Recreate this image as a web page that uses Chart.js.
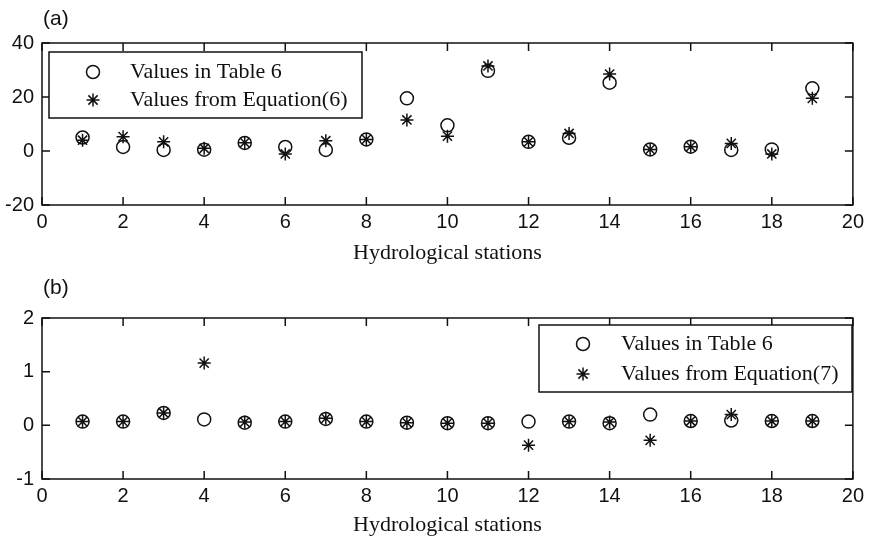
<!DOCTYPE html>
<html><head><meta charset="utf-8">
<script src="https://cdn.jsdelivr.net/npm/chart.js@4.4.0/dist/chart.umd.min.js"></script>
<style>
html,body{margin:0;padding:0;background:#fff;width:869px;height:541px;overflow:hidden}
canvas{position:absolute;left:0}
#c1{top:0}
#c2{top:270px}
</style></head><body>
<canvas id="c1" width="869" height="270"></canvas>
<canvas id="c2" width="869" height="271"></canvas>
<script>
// ---- data ----
const stations = [1,2,3,4,5,6,7,8,9,10,11,12,13,14,15,16,17,18,19];
const tableA = [5,1.5,0.4,0.5,3,1.5,0.4,4.3,19.5,9.5,29.7,3.4,4.9,25.3,0.6,1.6,0.4,0.6,23.2];
const equationA = [4,5.3,3.4,1,3.1,-1.1,3.8,4.3,11.5,5.5,31.5,3.4,6.5,28.5,0.6,1.6,2.8,-1.1,19.5];
const tableB = [0.07,0.07,0.23,0.11,0.05,0.07,0.12,0.07,0.05,0.04,0.04,0.07,0.07,0.04,0.2,0.08,0.09,0.08,0.08];
const equationB = [0.07,0.07,0.23,1.16,0.06,0.07,0.13,0.07,0.05,0.04,0.04,-0.37,0.07,0.06,-0.28,0.08,0.2,0.08,0.08];
const xRange = [0, 20], xStep = 2;
const yRangeA = [-20, 40], yStepA = 20;
const yRangeB = [-1, 2], yStepB = 1;
const labelTable = 'Values in Table 6';
const labelEqA = 'Values from Equation(6)';
const labelEqB = 'Values from Equation(7)';
const axisTitle = 'Hydrological stations';

const SANS = '"Liberation Sans", Arial, sans-serif';
const SERIF = '"Liberation Serif", "Times New Roman", serif';

const framePlugin = {
  id: 'frame',
  afterDatasetsDraw(chart, args, opts) {
    const {ctx, chartArea: a, scales: {x, y}} = chart;
    ctx.save();
    ctx.strokeStyle = '#111';
    ctx.lineWidth = 1.5;
    ctx.strokeRect(a.left, a.top, a.right - a.left, a.bottom - a.top);
    const L = 8;
    ctx.beginPath();
    x.ticks.forEach(t => {
      const px = x.getPixelForValue(t.value);
      ctx.moveTo(px, a.bottom); ctx.lineTo(px, a.bottom - L);
      ctx.moveTo(px, a.top); ctx.lineTo(px, a.top + L);
    });
    y.ticks.forEach(t => {
      const py = y.getPixelForValue(t.value);
      ctx.moveTo(a.left, py); ctx.lineTo(a.left + L, py);
      ctx.moveTo(a.right, py); ctx.lineTo(a.right - L, py);
    });
    ctx.stroke();
    // panel label
    ctx.fillStyle = '#111';
    ctx.font = '21px ' + SANS;
    ctx.textBaseline = 'middle';
    ctx.textAlign = 'left';
    ctx.fillText(opts.panel, opts.panelX, opts.panelY);
    // legend box
    const b = opts.box;
    ctx.fillStyle = '#fff';
    ctx.fillRect(b.x, b.y, b.w, b.h);
    ctx.lineWidth = 1.5;
    ctx.strokeRect(b.x, b.y, b.w, b.h);
    chart.data.datasets.forEach((ds, i) => {
      const yy = opts.rows[i];
      ctx.strokeStyle = '#111';
      ctx.lineWidth = 1.5;
      Chart.helpers.drawPoint(ctx, {pointStyle: ds.pointStyle, radius: ds.pointRadius, borderWidth: 1.5, rotation: 0}, opts.markerX, yy);
      ctx.fillStyle = '#111';
      ctx.font = '22px ' + SERIF;
      ctx.textBaseline = 'middle';
      ctx.textAlign = 'left';
      ctx.fillText(ds.label, opts.textX, yy);
    });
    ctx.restore();
  }
};

function makeChart(id, tbl, eq, eqLabel, yRange, yStep, padTop, xH, titlePadBottom, frameOpts) {
  const toPts = arr => stations.map((s, i) => ({x: s, y: arr[i]}));
  return new Chart(document.getElementById(id), {
    type: 'scatter',
    data: {
      datasets: [
        {label: labelTable, data: toPts(tbl), pointStyle: 'circle', pointRadius: 6.5,
         borderColor: '#111', backgroundColor: 'rgba(0,0,0,0)', borderWidth: 1.5, showLine: false},
        {label: eqLabel, data: toPts(eq), pointStyle: 'star', pointRadius: 6.5,
         borderColor: '#111', backgroundColor: 'rgba(0,0,0,0)', borderWidth: 1.5, showLine: false}
      ]
    },
    options: {
      responsive: false,
      animation: false,
      events: [],
      layout: {padding: {top: padTop, right: 9, left: 0, bottom: 0}},
      plugins: {legend: {display: false}, tooltip: {enabled: false}, title: {display: false},
        frame: frameOpts},
      scales: {
        x: {
          type: 'linear', min: xRange[0], max: xRange[1],
          grid: {display: false, drawTicks: false},
          border: {display: false},
          ticks: {stepSize: xStep, padding: 5, color: '#111', font: {family: SANS, size: 20}, maxRotation: 0},
          title: {display: true, text: axisTitle, color: '#111', font: {family: SERIF, size: 22},
                  padding: {top: 0, bottom: titlePadBottom}},
          afterFit(s) { s.height = xH; }
        },
        y: {
          type: 'linear', min: yRange[0], max: yRange[1],
          grid: {display: false, drawTicks: false},
          border: {display: false},
          ticks: {stepSize: yStep, padding: 8, color: '#111', font: {family: SANS, size: 20}},
          afterFit(s) { s.width = 42; }
        }
      }
    },
    plugins: [framePlugin]
  });
}

makeChart('c1', tableA, equationA, labelEqA, yRangeA, yStepA, 43, 65, 4, {
  panel: '(a)', panelX: 43, panelY: 19,
  box: {x: 49, y: 52, w: 313, h: 66},
  rows: [72, 100], markerX: 93, textX: 130
});
makeChart('c2', tableB, equationB, labelEqB, yRangeB, yStepB, 48, 62, 3, {
  panel: '(b)', panelX: 43, panelY: 18,
  box: {x: 539, y: 55, w: 313, h: 67},
  rows: [74, 104], markerX: 583, textX: 621
});
</script>
</body></html>
